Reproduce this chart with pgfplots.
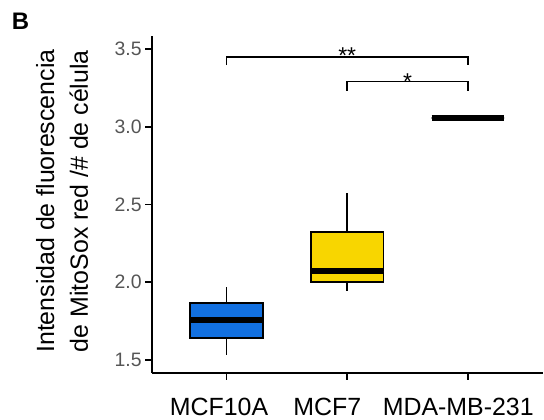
\documentclass[border=0pt]{standalone}
\usepackage{fontspec}
\setmainfont{Liberation Sans}
\usepackage{pgfplots}
\pgfplotsset{compat=1.18}
\usepgfplotslibrary{statistics}
\definecolor{boxblue}{RGB}{18,112,224}
\definecolor{boxyellow}{RGB}{248,214,0}
\definecolor{tickgrey}{RGB}{85,85,85}
\begin{document}
\begin{tikzpicture}
\useasboundingbox (-151.7bp,-47bp) rectangle (392.3bp,373bp);
\begin{axis}[
  scale only axis, width=391bp, height=337bp,
  at={(0,0)}, anchor=south west,
  xmin=0.38, xmax=3.62, ymin=1.416, ymax=3.584,
  axis x line*=bottom, axis y line*=left,
  axis line style={line width=2bp, -},
  tick align=outside, major tick length=6.5bp,
  tick style={line width=1.7bp, black},
  xtick={1,2,3}, xticklabels={},
  ytick={1.5,2,2.5,3,3.5},
  yticklabel style={/pgf/number format/fixed, /pgf/number format/fixed zerofill, /pgf/number format/precision=1, /pgf/number format/assume math mode=true, font=\fontsize{19.5}{20}\selectfont, text=tickgrey},
  clip=false,
  boxplot/draw direction=y,
]
\addplot[boxplot prepared={median=1.757, lower quartile=1.641, upper quartile=1.867, lower whisker=1.532, upper whisker=1.969, draw position=1, box extend=0.6, whisker extend=0, every median/.style={line width=5.5bp}}, draw=black, fill=boxblue, line width=1.8bp, solid, mark=none] coordinates {};
\addplot[boxplot prepared={median=2.072, lower quartile=2.002, upper quartile=2.323, lower whisker=1.944, upper whisker=2.574, draw position=2, box extend=0.6, whisker extend=0, every median/.style={line width=5.5bp}}, draw=black, fill=boxyellow, line width=1.8bp, solid, mark=none] coordinates {};
\addplot[boxplot prepared={median=3.056, lower quartile=3.056, upper quartile=3.056, lower whisker=3.056, upper whisker=3.056, draw position=3, box extend=0.6, whisker extend=0, every median/.style={line width=5.5bp}}, draw=black, fill=white, line width=1.8bp, solid, mark=none] coordinates {};
\addplot[black, line width=1.6bp, mark=none] coordinates {(1,3.397) (1,3.45) (3,3.45) (3,3.397)};
\addplot[black, line width=1.6bp, mark=none] coordinates {(2,3.232) (2,3.29) (3,3.29) (3,3.232)};
\node[anchor=base, font=\fontsize{23}{23}\selectfont] at (axis cs:2,3.409) {**};
\node[anchor=base, font=\fontsize{23}{23}\selectfont] at (axis cs:2.5,3.241) {*};
\node[anchor=base, font=\fontsize{25}{25}\selectfont, yshift=-42bp] at (axis cs:0.938,1.416) {MCF10A};
\node[anchor=base, font=\fontsize{25}{25}\selectfont, yshift=-42bp] at (axis cs:1.835,1.416) {MCF7};
\node[anchor=base, font=\fontsize{25}{25}\selectfont, yshift=-42bp] at (axis cs:2.92,1.416) {MDA-MB-231};
\node[rotate=90, align=center, font=\fontsize{25}{34}\selectfont] at (axis description cs:-0.229,0.51) {Intensidad de fluorescencia\\de MitoSox red /\# de célula};
\node[font=\bfseries\fontsize{24}{24}\selectfont] at (axis description cs:-0.3355,1.043) {B};
\end{axis}
\end{tikzpicture}
\end{document}
